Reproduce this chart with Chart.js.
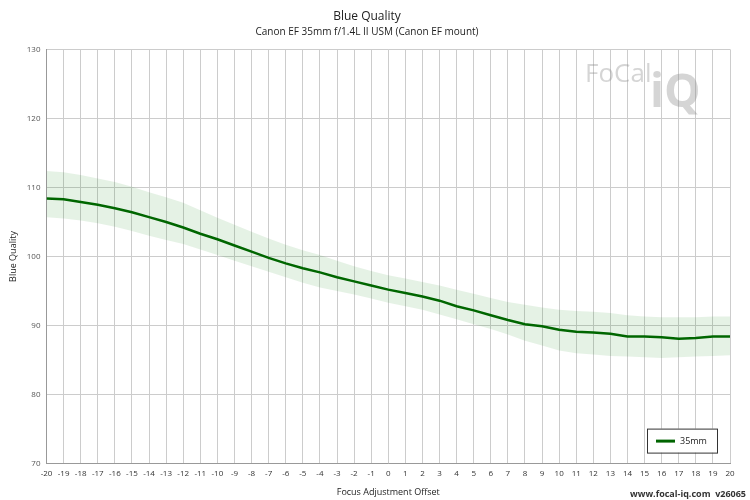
<!DOCTYPE html>
<html>
<head>
<meta charset="utf-8">
<script src="https://cdn.jsdelivr.net/npm/chart.js@4.4.0/dist/chart.umd.min.js"></script>
<style>
  html, body { margin: 0; padding: 0; background: #fff; }
  #wrap { width: 750px; height: 500px; position: relative; }
</style>
</head>
<body>
<div id="wrap"><canvas id="chart" width="750" height="500"></canvas></div>
<script>
const offsets = [];
for (let i = -20; i <= 20; i++) offsets.push(i);

const blueQuality = [108.4, 108.3, 107.9, 107.5, 107.0, 106.4, 105.7, 105.0, 104.2, 103.3,
  102.5, 101.6, 100.7, 99.8, 99.0, 98.3, 97.7, 97.0, 96.4, 95.8,
  95.2, 94.7, 94.2, 93.6, 92.8, 92.2, 91.5, 90.8, 90.2, 89.9,
  89.4, 89.1, 89.0, 88.8, 88.4, 88.4, 88.3, 88.1, 88.2, 88.4, 88.4];

const upperBand = [112.4, 112.2, 111.8, 111.3, 110.8, 110.1, 109.3, 108.6, 107.8, 106.7,
  105.6, 104.6, 103.6, 102.6, 101.7, 100.9, 100.2, 99.4, 98.6, 97.9,
  97.3, 96.8, 96.3, 95.8, 95.2, 94.6, 94.0, 93.4, 93.0, 92.6,
  92.3, 92.1, 92.0, 91.8, 91.5, 91.3, 91.2, 91.2, 91.2, 91.3, 91.3];

const lowerBand = [105.7, 105.5, 105.2, 104.8, 104.3, 103.7, 103.0, 102.4, 101.8, 101.0,
  100.2, 99.4, 98.6, 97.8, 97.0, 96.2, 95.5, 95.0, 94.5, 93.9,
  93.3, 92.8, 92.3, 91.6, 90.9, 90.2, 89.5, 88.7, 87.8, 87.1,
  86.4, 86.0, 85.8, 85.6, 85.5, 85.4, 85.3, 85.4, 85.5, 85.6, 85.7];

const yTicks = [70, 80, 90, 100, 110, 120, 130];

const pts = arr => arr.map((v, i) => ({ x: offsets[i], y: v }));

/* =========================
   EXTRAS: legend box, logo, footer
========================= */
const extras = {
  id: "extras",
  afterDraw(chart) {
    const ctx = chart.ctx;
    const a = chart.chartArea;
    ctx.save();
    // logo watermark
    ctx.globalAlpha = 0.35;
    ctx.font = "26px 'Open Sans'";
    ctx.fillStyle = "#888";
    ctx.fillText("FoCal", 585, 82);
    ctx.font = "bold 46px 'Open Sans'";
    ctx.fillText("iQ", 650, 107);
    ctx.globalAlpha = 1;
    // legend
    const lx = a.right - 83, ly = a.bottom - 35;
    ctx.fillStyle = "#fff";
    ctx.fillRect(lx, ly, 70, 24);
    ctx.strokeStyle = "#333";
    ctx.lineWidth = 1;
    ctx.strokeRect(lx + 0.5, ly + 0.5, 70, 24);
    ctx.strokeStyle = "#006400";
    ctx.lineWidth = 3;
    ctx.beginPath();
    ctx.moveTo(lx + 9, ly + 12.5);
    ctx.lineTo(lx + 28, ly + 12.5);
    ctx.stroke();
    ctx.fillStyle = "#222";
    ctx.font = "9px 'Open Sans'";
    ctx.textBaseline = "middle";
    ctx.fillText("35mm", lx + 33, ly + 13);
    // footer
    ctx.font = "bold 9px 'Open Sans'";
    ctx.textAlign = "right";
    ctx.fillStyle = "#333";
    ctx.fillText("www.focal-iq.com  v26065", 746, 494);
    ctx.restore();
  }
};

new Chart(document.getElementById("chart"), {
  type: "line",
  data: {
    datasets: [
      {
        label: "upper",
        data: pts(upperBand),
        borderWidth: 0,
        pointRadius: 0,
        backgroundColor: "rgba(0,128,0,0.1)",
        fill: "+1"
      },
      {
        label: "lower",
        data: pts(lowerBand),
        borderWidth: 0,
        pointRadius: 0,
        fill: false
      },
      {
        label: "35mm",
        data: pts(blueQuality),
        borderColor: "#006400",
        borderWidth: 2.5,
        pointRadius: 0,
        fill: false
      }
    ]
  },
  options: {
    responsive: false,
    animation: false,
    layout: { padding: { left: 4, right: 20, top: 0, bottom: 0 } },
    plugins: {
      legend: { display: false },
      tooltip: { enabled: false },
      title: {
        display: true,
        text: "Blue Quality",
        color: "#222",
        font: { family: "Open Sans", size: 12, weight: "normal" },
        padding: { top: 9, bottom: 3 }
      },
      subtitle: {
        display: true,
        text: "Canon EF 35mm f/1.4L II USM (Canon EF mount)",
        color: "#222",
        font: { family: "Open Sans", size: 10 },
        padding: { bottom: 11 }
      }
    },
    scales: {
      x: {
        type: "linear",
        min: -20,
        max: 20,
        grid: { color: "#ccc", drawTicks: false },
        border: { color: "#999" },
        ticks: {
          stepSize: 1,
          autoSkip: false,
          maxRotation: 0,
          padding: 5,
          color: "#333",
          font: { family: "Open Sans", size: 8 }
        },
        title: {
          display: true,
          text: "Focus Adjustment Offset",
          color: "#222",
          font: { family: "Open Sans", size: 9 },
          padding: { top: 4, bottom: 2 }
        }
      },
      y: {
        min: 70,
        max: 130,
        afterBuildTicks: s => { s.ticks = yTicks.map(v => ({ value: v })); },
        grid: { color: "#ccc", drawTicks: false },
        border: { color: "#999" },
        ticks: {
          padding: 6,
          color: "#555",
          font: { family: "Open Sans", size: 8 }
        },
        title: {
          display: true,
          text: "Blue Quality",
          color: "#222",
          font: { family: "Open Sans", size: 9 },
          padding: { bottom: 2 }
        }
      }
    }
  },
  plugins: [extras]
});
</script>
</body>
</html>
